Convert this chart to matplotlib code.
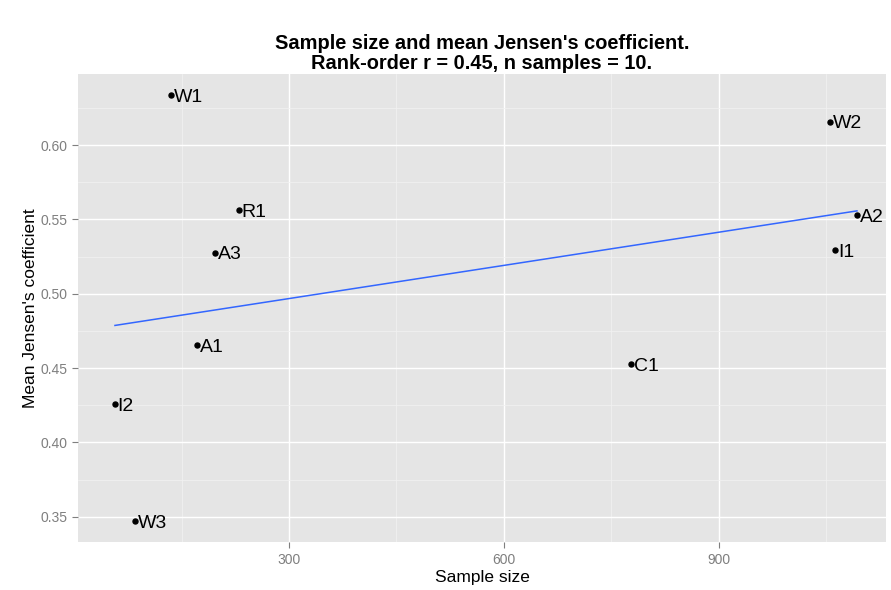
import numpy as np
import matplotlib
matplotlib.use("Agg")
from matplotlib import pyplot as plt
from matplotlib.ticker import MultipleLocator

# Data
labels = ["W1", "R1", "A3", "A1", "I2", "W3", "C1", "W2", "A2", "I1"]
sample_size = [134.7, 230.1, 197.0, 171.8, 56.8, 84.8, 777.6, 1056.1, 1093.4, 1063.1]
mean_jensen = [0.6336, 0.5563, 0.5276, 0.4655, 0.4256, 0.3471, 0.4527, 0.6157, 0.5527, 0.5294]

plt.rcParams['font.family'] = ['Liberation Sans', 'DejaVu Sans']

fig = plt.figure(figsize=(8.91, 5.90), dpi=100)
fig.patch.set_facecolor('white')
ax = fig.add_axes([0.0875, 0.0808, 0.9069, 0.7938])
ax.set_facecolor('#E5E5E5')

# ggplot-like grid
ax.xaxis.set_major_locator(MultipleLocator(300))
ax.xaxis.set_minor_locator(MultipleLocator(150))
ax.yaxis.set_major_locator(MultipleLocator(0.05))
ax.yaxis.set_minor_locator(MultipleLocator(0.025))
ax.grid(which='major', color='white', linewidth=1.0)
ax.grid(which='minor', color='#F2F2F2', linewidth=0.5)
ax.set_axisbelow(True)
for s in ax.spines.values():
    s.set_visible(False)
ax.tick_params(which='major', length=4, color='#7F7F7F', labelcolor='#7F7F7F',
               labelsize=10, width=0.8)
ax.tick_params(which='minor', length=0)
ax.yaxis.set_major_formatter(matplotlib.ticker.FormatStrFormatter('%.2f'))

# linear fit over the data range
x = np.array(sample_size)
y = np.array(mean_jensen)
slope, icpt = np.polyfit(x, y, 1)
xs = np.linspace(x.min(), x.max(), 100)
ax.plot(xs, icpt + slope * xs, color='#3366FF', linewidth=1.1, zorder=2)

ax.plot(x, y, 'o', color='black', markersize=3.6, zorder=3)
for lab, xi, yi in zip(labels, x, y):
    ax.annotate(lab, (xi, yi), xytext=(2, -1.5), textcoords='offset points',
                fontsize=14, ha='left', va='center', zorder=4)

ax.set_xlim(5.1, 1134)
ax.set_ylim(0.3328, 0.6478)

ax.set_xlabel("Sample size", fontsize=12.5, labelpad=2)
ax.set_ylabel("Mean Jensen's coefficient", fontsize=12.5, labelpad=1.5)
ax.set_title("Sample size and mean Jensen's coefficient.\nRank-order r = 0.45, n samples = 10.",
             fontsize=14.4, fontweight='bold', pad=3.5, linespacing=1.1)

fig.savefig("out.png", dpi=100)
